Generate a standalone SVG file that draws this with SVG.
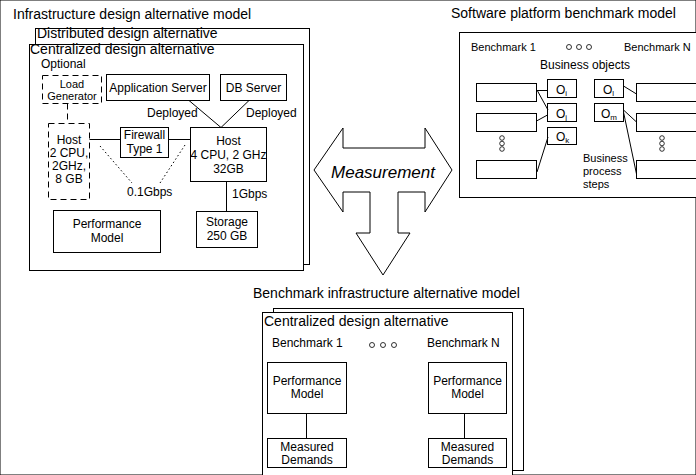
<svg xmlns="http://www.w3.org/2000/svg" width="696" height="475" viewBox="0 0 696 475">
<style>
text{font-family:"Liberation Sans",Arial,Helvetica,sans-serif;fill:#000}
.t{font-size:14px}
.b{font-size:12px}
.s{font-size:11px}
.c{text-anchor:middle}
rect{fill:#fff;stroke:#000;stroke-width:1}
.d{stroke-dasharray:6,4}
line,polyline{stroke:#000;stroke-width:1;fill:none}
.dot{stroke-dasharray:1.5,2.5}
circle{fill:#fff;stroke:#000;stroke-width:0.8}
.sub{font-size:8px}
</style>
<rect width="696" height="475" fill="#fff" stroke="none"/>

<!-- Infrastructure design alternative model -->
<g id="infrastructure-model">
<text class="t" x="13" y="19">Infrastructure design alternative model</text>
<rect x="35.5" y="28.5" width="274" height="236"/>
<text class="t" x="37" y="38">Distributed design alternative</text>
<rect x="29.5" y="44.5" width="274" height="226"/>
<text class="t" x="30" y="54">Centralized design alternative</text>
<text class="b" x="41" y="68">Optional</text>
</g>
<g id="load-generator">
<rect class="d" x="42.5" y="75.5" width="59" height="28"/>
<text class="s c" x="72" y="88">Load</text>
<text class="s c" x="72" y="100">Generator</text>
</g>
<g id="app-server">
<rect x="106.5" y="74.5" width="103" height="26"/>
<text class="b c" x="158" y="92">Application Server</text>
</g>
<g id="db-server">
<rect x="220.5" y="74.5" width="66" height="26"/>
<text class="b c" x="253.5" y="92">DB Server</text>
</g>
<g id="host-main">
<rect x="190.5" y="127.5" width="76" height="54"/>
<text class="b c" x="228.5" y="145">Host</text>
<text class="b c" x="228.5" y="159">4 CPU, 2 GHz</text>
<text class="b c" x="228.5" y="173">32GB</text>
</g>
<g id="storage">
<rect x="196.5" y="211.5" width="61" height="36"/>
<text class="b c" x="227" y="226">Storage</text>
<text class="b c" x="227" y="240">250 GB</text>
</g>
<g id="firewall">
<rect x="120.5" y="127.5" width="48" height="30"/>
<text class="b c" x="144.5" y="139">Firewall</text>
<text class="b c" x="144.5" y="153">Type 1</text>
</g>
<g id="host-optional">
<rect class="d" x="48.5" y="123.5" width="41" height="76"/>
<text class="b c" x="69" y="144">Host</text>
<text class="b c" x="69" y="157">2 CPU,</text>
<text class="b c" x="69" y="170">2GHz,</text>
<text class="b c" x="69" y="183">8 GB</text>
</g>
<g id="performance-model-infra">
<rect x="53.5" y="210.5" width="107" height="42"/>
<text class="b c" x="107" y="228">Performance</text>
<text class="b c" x="107" y="242">Model</text>
</g>

<!-- Software platform benchmark model -->
<g id="software-model">
<text class="t" x="451" y="18">Software platform benchmark model</text>
<rect x="459.5" y="32.5" width="260" height="165"/>
<text class="s" x="471" y="51">Benchmark 1</text>
<circle cx="569" cy="47" r="2.5"/><circle cx="579" cy="47" r="2.5"/><circle cx="589" cy="47" r="2.5"/>
<text class="s" x="624" y="51">Benchmark N</text>
<text class="b c" x="585" y="69">Business objects</text>
<text class="s" x="583" y="162">Business</text>
<text class="s" x="583" y="175">process</text>
<text class="s" x="583" y="188">steps</text>
<circle cx="502" cy="138" r="2.3"/><circle cx="502" cy="143.5" r="2.3"/><circle cx="502" cy="149" r="2.3"/>
<circle cx="662" cy="138" r="2.3"/><circle cx="662" cy="143.5" r="2.3"/><circle cx="662" cy="149" r="2.3"/>
</g>
<g id="step-l1"><rect x="476.5" y="83.5" width="60" height="18"/></g>
<g id="step-l2"><rect x="476.5" y="113.5" width="60" height="18"/></g>
<g id="step-l3"><rect x="476.5" y="160.5" width="60" height="18"/></g>
<g id="step-r1"><rect x="636.5" y="83.5" width="70" height="18"/></g>
<g id="step-r2"><rect x="636.5" y="113.5" width="70" height="18"/></g>
<g id="step-r3"><rect x="636.5" y="160.5" width="70" height="18"/></g>
<g id="obj-i"><rect x="547.5" y="79.5" width="29" height="18"/><text class="b" x="556" y="94">O<tspan class="sub" dy="2">i</tspan></text></g>
<g id="obj-j"><rect x="547.5" y="103.5" width="29" height="18"/><text class="b" x="556" y="118">O<tspan class="sub" dy="2">j</tspan></text></g>
<g id="obj-k"><rect x="547.5" y="127.5" width="29" height="17"/><text class="b" x="556" y="141">O<tspan class="sub" dy="2">k</tspan></text></g>
<g id="obj-l"><rect x="594.5" y="79.5" width="29" height="18"/><text class="b" x="603" y="94">O<tspan class="sub" dy="2">l</tspan></text></g>
<g id="obj-m"><rect x="594.5" y="103.5" width="29" height="18"/><text class="b" x="601" y="118">O<tspan class="sub" dy="2">m</tspan></text></g>

<!-- Measurement arrow -->
<g id="measurement">
<polygon points="314,170 343,128 343,148 425,148 425,128 452,170 425,212 425,192 398,192 398,233 410,233 383,275 356,233 370,233 370,192 343,192 343,212" fill="#fff" stroke="#000" stroke-width="1"/>
<text x="383" y="178" font-size="17" font-style="italic" text-anchor="middle">Measurement</text>
</g>

<!-- Benchmark infrastructure alternative model -->
<g id="benchmark-infra-model">
<text class="t" x="253" y="298">Benchmark infrastructure alternative model</text>
<rect x="273.5" y="308.5" width="250" height="162"/>
<rect x="262.5" y="312.5" width="250" height="175"/>
<text class="t" x="264" y="326">Centralized design alternative</text>
<text class="b" x="272" y="347">Benchmark 1</text>
<circle cx="372" cy="345" r="2.5"/><circle cx="383" cy="345" r="2.5"/><circle cx="394" cy="345" r="2.5"/>
<text class="b" x="427" y="347">Benchmark N</text>
</g>
<g id="perf-model-1">
<rect x="267.5" y="362.5" width="79" height="51"/>
<text class="b c" x="307" y="385">Performance</text>
<text class="b c" x="307" y="398">Model</text>
</g>
<g id="measured-1">
<rect x="267.5" y="438.5" width="79" height="29"/>
<text class="b c" x="307" y="451">Measured</text>
<text class="b c" x="307" y="464">Demands</text>
</g>
<g id="perf-model-n">
<rect x="428.5" y="362.5" width="78" height="51"/>
<text class="b c" x="467.5" y="385">Performance</text>
<text class="b c" x="467.5" y="398">Model</text>
</g>
<g id="measured-n">
<rect x="428.5" y="438.5" width="78" height="29"/>
<text class="b c" x="467.5" y="451">Measured</text>
<text class="b c" x="467.5" y="464">Demands</text>
</g>

<!-- Connectors -->
<g id="connectors">
<polyline points="189,100.5 221,127.5 249,100.5"/>
<text class="b" x="147" y="117">Deployed</text>
<text class="b" x="246" y="117">Deployed</text>
<line class="d" x1="67.5" y1="103.5" x2="67.5" y2="123.5"/>
<line x1="89.5" y1="139.5" x2="120.5" y2="139.5"/>
<line x1="168.5" y1="139.5" x2="190.5" y2="139.5"/>
<line class="dot" x1="100" y1="146" x2="132" y2="183"/>
<line class="dot" x1="185" y1="145" x2="160" y2="183"/>
<text class="b" x="127" y="196">0.1Gbps</text>
<line x1="226.5" y1="181.5" x2="226.5" y2="211.5"/>
<text class="b" x="232" y="198">1Gbps</text>
<line x1="536.5" y1="90.5" x2="547.5" y2="90.5"/>
<line x1="537" y1="90" x2="548" y2="110"/>
<line x1="536.5" y1="121" x2="547.5" y2="115"/>
<line x1="537" y1="172" x2="548" y2="137"/>
<line x1="623.5" y1="86" x2="636.5" y2="94"/>
<line x1="623.5" y1="110" x2="636.5" y2="122"/>
<line x1="623.5" y1="112" x2="636.5" y2="174"/>
<line x1="306.5" y1="413.5" x2="306.5" y2="438.5"/>
<line x1="464.5" y1="413.5" x2="464.5" y2="438.5"/>
</g>
</svg>
